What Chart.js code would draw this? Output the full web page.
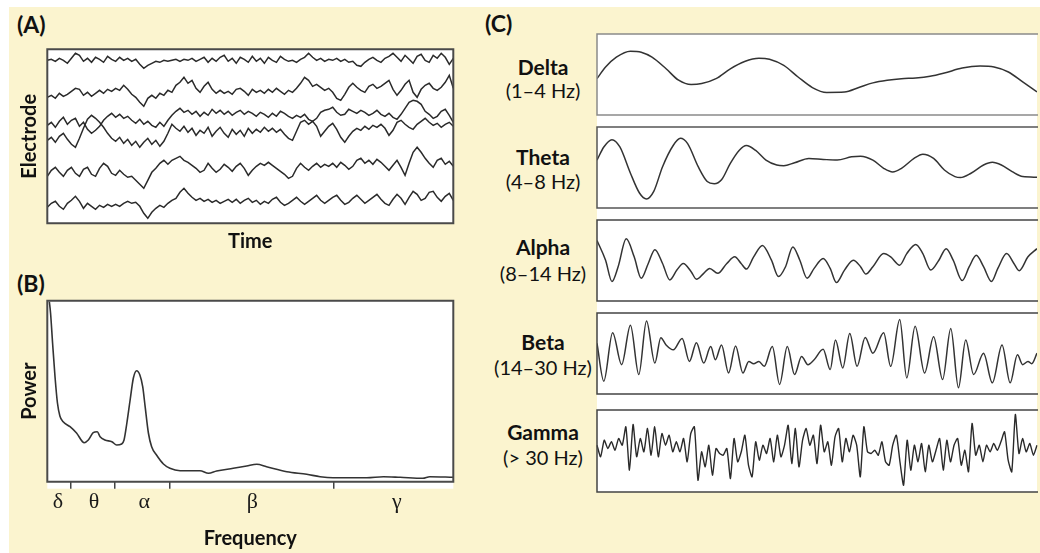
<!DOCTYPE html>
<html>
<head>
<meta charset="utf-8">
<script src="https://cdn.jsdelivr.net/npm/chart.js@4.4.1/dist/chart.umd.min.js"></script>
<style>
  html, body { margin: 0; padding: 0; background: #ffffff; }
  body { width: 1040px; height: 553px; position: relative; overflow: hidden; font-family: Lato, "Open Sans", sans-serif; }
  #sheet { position: absolute; left: 9px; top: 7px; width: 1031px; height: 546px; background: #fbf4cf; }
  #cpanel { position: absolute; left: 597px; top: 34px; width: 440px; height: 458px; background: #ffffff; }
  canvas { position: absolute; }
  .tag { position: absolute; font-weight: 700; font-size: 23px; line-height: 23px; color: #111; }
  .band { position: absolute; left: 543px; transform: translate(-50%, -50%); white-space: nowrap; color: #111; line-height: 1; }
  .band.name { font-weight: 700; font-size: 21px; }
  .band.range { font-size: 20px; }
</style>
</head>
<body>
<div id="sheet"></div>
<div id="cpanel"></div>

<div class="tag" style="left:17px; top:13px">(A)</div>
<div class="tag" style="left:17px; top:272px">(B)</div>
<div class="tag" style="left:485px; top:12px">(C)</div>

<canvas id="eeg" width="450" height="215" style="left:10px; top:40px"></canvas>
<canvas id="spectrum" width="450" height="258" style="left:10px; top:295px"></canvas>

<canvas id="wave0" width="442" height="83" style="left:596px; top:33px"></canvas>
<canvas id="wave1" width="442" height="83" style="left:596px; top:126px"></canvas>
<canvas id="wave2" width="442" height="83" style="left:596px; top:219px"></canvas>
<canvas id="wave3" width="442" height="83" style="left:596px; top:312px"></canvas>
<canvas id="wave4" width="442" height="84" style="left:596px; top:409px"></canvas>

<div id="bandLabels"></div>

<script>
// ---------- (A) multichannel EEG, deviations from each channel's baseline ----------
const eegTrace1 = [0,1,-1,2,0,-3,2,7,5,-1, 2,-2,3,1,-2,4,1,-1,3,0, 2,-1,1,-4,-8,-5,-3,-1,-2,0,
  -1,0,1,-1,1,0,2,-1,1,3, -2,2,-1,3,5,-1,2,-3,3,1, -2,4,-1,2,-3,3,0,-2,4,1, -1,0,-2,1,3,7,3,0,2,-1,
  1,0,2,-1,1,-2,-1,-5,-6,-2, 1,3,0,-2,2,4,7,3,-1,5, 1,-3,4,6,0,-2,5,2,7,3, -4,2];
const eegTrace2 = [-5,-3,-6,-1,-4,-2,1,4,3,-3, 0,-4,-1,2,-1,3,1,4,2,7, 3,-2,-5,-10,-14,-6,-3,-6,-1,-3,
  2,0,7,10,15,9,12,4,0,6, 10,3,-1,2,-1,1,-2,3,4,1, -3,3,0,2,-1,3,0,4,1,-2, 2,0,4,9,15,12,6,8,5,2,
  4,0,-6,-8,-2,5,9,5,2,0, 6,8,4,6,9,12,3,-3,2,8, 12,0,-5,3,7,9,4,2,5,10, 17,4];
const eegTrace3 = [-8,-5,-10,-4,0,-7,-3,-1,-9,-5, -12,-16,-13,-9,-3,1,4,0,3,-1, 1,-3,-6,-2,-7,-4,-8,-10,-5,-9,
  -3,2,6,9,5,7,3,6,1,5, 2,8,4,7,3,6,2,5,7,3, 6,4,1,5,3,0,4,1,6,4, 1,-1,2,0,3,-2,-4,-1,5,7,
  8,10,5,2,3,8,6,4,7,5, 2,4,7,3,1,4,0,-2,3,9, 15,17,16,13,6,3,-1,1,6,8, 2,-5];
const eegTrace4 = [-10,-7,-12,-6,-3,-9,-14,-17,-8,2, 11,15,12,8,3,-3,-8,-11,-7,-13, -9,-15,-11,-17,-12,-8,-14,-10,-16,-11,
  -3,6,2,-1,4,-2,2,-5,0,-3, 3,-6,-1,3,-3,-7,1,-4,0,-6, 2,-3,1,-2,3,-1,2,-2,1,-4, -8,-10,-1,8,10,6,9,4,-6,-1,
  4,7,1,-7,-12,-6,-1,2,0,4, 1,5,3,6,2,-5,0,8,10,6, 3,1,6,9,12,8,5,7,3,6, 8,4];
const eegTrace5 = [-8,-2,1,-4,-8,-2,1,-5,-8,-1, 1,-6,-8,0,5,2,-5,-7,-2,-6, -9,-8,-12,-16,-20,-12,-4,0,5,8,
  4,8,10,12,8,6,3,0,-4,-2, 5,0,-4,-1,4,1,-3,2,5,0, -7,-2,2,5,3,6,3,0,-3,-6, -10,-8,0,5,1,-2,2,5,1,4,
  2,5,1,6,3,-1,2,8,10,5, 8,4,9,6,2,-2,3,8,1,-7, 5,16,21,16,10,5,1,8,10,4, 7,2];
const eegTrace6 = [-5,-1,1,-4,-7,-1,2,6,1,-6, -1,-4,-7,-3,-5,-2,-4,-2,-4,-1, 1,-1,0,-4,-11,-16,-10,-6,-3,-5,
  -1,2,4,10,14,9,5,2,4,1, 3,0,2,-1,1,3,0,3,-1,2, 4,0,2,-2,1,-1,3,5,0,-3, -1,2,5,1,-2,1,4,7,2,-1,
  2,5,7,2,-2,0,4,7,3,-1, 2,5,8,3,-1,-3,3,8,4,-2, 5,11,8,2,4,10,11,5,1,6, 9,2];
const channelBaseline = [163, 131, 106, 93, 55, 21];

// ---------- (B) power spectrum ----------
const specFreq  = [0.5,0.8,1.3,1.9,2.5,3.1,3.9,5.6,7.2,9.1, 10.1,11.3,12.3,13,14.2,15.9,17.1,18.3,18.9,19.6,
  20.4,21.2,22,22.8,23.5,24.1,24.9,25.7,26.9,28.6, 30.2,32.7,37.6,39.7,41.7,45.8,49.1,51.6,54,59,
  63.9,67.2,70.4,78.7,82.8,86.9,92.5,94.2,100];
const specPower = [180,168.7,138.7,105,78.7,65.7,60,55,48.7,39, 41.7,49,50,45,41.7,40,36.7,37.7,41.7,58.7,
  81.7,103.7,111,106.7,95,75,48.7,35,26.7,17.7, 13.4,11,11,8.4,10.7,13.4,15.7,17.4,15,10,
  7.4,5,4,4,5,4.4,3.4,5,4.4];
const bandEdges = [5.7, 16.5, 30.2, 70.6];
const greekLetters = ['δ', 'θ', 'α', 'β', 'γ'];
const greekAt = [2.6, 11.5, 23.9, 50.5, 86.1];

// ---------- (C) band-limited rhythms (time in s, amplitude in µV) ----------
const bandNames  = ['Delta', 'Theta', 'Alpha', 'Beta', 'Gamma'];
const bandRanges = ['(1–4 Hz)', '(4–8 Hz)', '(8–14 Hz)', '(14–30 Hz)', '(> 30 Hz)'];

const deltaT = [0,0.039,0.088,0.152,0.201,0.250,0.314,0.371,0.428,0.476, 0.541,0.606,0.671,0.736,0.784,0.849,0.914,0.979,1.044,1.125,
  1.190,1.254,1.319,1.384,1.449,1.514,1.579,1.660,1.741,1.805, 1.870,1.935,2.0];
const deltaV = [-4.2,7.5,17.5,23.5,22.5,17.5,5.8,-5.8,-10.2,-9.2, -4.2,5.8,13.2,16.5,15.5,9.2,-2.5,-13.2,-18.2,-17.8,
  -13.2,-8.5,-5.8,-4.2,-3.5,-1.8,1.5,6.5,8.5,7.5, 2.5,-7.5,-17.5];

const thetaT = [0,0.031,0.068,0.104,0.152,0.193,0.225,0.258,0.298,0.347, 0.379,0.412,0.460,0.501,0.533,0.566,0.606,0.647,0.679,0.720,
  0.768,0.817,0.849,0.898,0.963,1.028,1.092,1.157,1.198,1.254, 1.303,1.344,1.384,1.441,1.481,1.530,1.579,1.627,1.652,1.700,
  1.757,1.797,1.838,1.887,1.935,2.0];
const thetaV = [7.5,20.8,28.2,20.8,-5.8,-25.8,-31.8,-24.2,0.8,22.5, 29.5,24.2,0.8,-14.2,-16.5,-12.5,4.2,17.5,22.2,17.5,
  7.5,2.5,1.8,4.8,9.2,8.2,7.5,10.8,11.5,7.5, -0.8,-4.5,-0.8,9.2,13.5,9.2,-2.5,-9.2,-10.2,-5.8,
  2.5,5.2,2.5,-4.2,-9.2,-9.8];

const alphaT = [0,0.039,0.068,0.096,0.133,0.169,0.201,0.233,0.263,0.298, 0.331,0.363,0.392,0.428,0.452,0.485,0.512,0.549,0.590,0.626,
  0.655,0.679,0.712,0.752,0.793,0.825,0.857,0.890,0.922,0.955, 0.987,1.028,1.060,1.088,1.125,1.165,1.198,1.222,1.254,1.303,
  1.335,1.376,1.408,1.449,1.481,1.517,1.554,1.587,1.619,1.660, 1.692,1.724,1.757,1.793,1.822,1.862,1.895,1.919,1.959,2.0];
const alphaV = [20.3,0.3,-21.3,-6.3,22,3.7,-18,-3,11,-3, -19.7,-9.7,-3,-11.3,-19,-13,-8,-13,-3,3.7,
  -3,-8.7,3.7,15.3,0.3,-16.3,-6.3,13.7,0.3,-18, -8,2,-8,-22.3,-9.7,0.3,-6.3,-13.7,-6.3,7,
  3.7,-4.7,7,16.3,7,-9.7,0.3,12,0.3,-20.3, -6.3,5.3,-6.3,-21.3,-8,7,-3,-10.3,3.7,12];

const betaT = [0,0.031,0.071,0.112,0.152,0.190,0.225,0.263,0.290,0.314, 0.347,0.387,0.420,0.452,0.485,0.517,0.538,0.566,0.598,0.630,
  0.663,0.690,0.712,0.736,0.760,0.797,0.830,0.865,0.898,0.930, 0.959,0.987,1.028,1.060,1.084,1.117,1.149,1.182,1.219,1.254,
  1.303,1.335,1.376,1.408,1.446,1.489,1.530,1.571,1.608,1.643, 1.676,1.712,1.757,1.797,1.841,1.878,1.911,1.935,1.959,1.976, 2.0];
const betaV = [10.3,-28,21,-11.3,28.7,-21.3,33,-9.7,16,8.7, 3.7,15.3,-8,11,-9.7,7,-6.3,8.7,-19.7,7.7,
  -19.7,-8,-10.3,-8,-13,7,-31.3,7,-21.3,-3, -11.3,-6.3,4.3,-16.3,13.7,-14.7,20.3,-13,16.3,0.3,
  21,-13,34.3,-24.7,27.7,-19.7,17,-26.3,25.3,-34.7, 13.7,-21.3,0.3,-29.7,8.7,-29.7,-1.3,-11.3,-8,-10.3, 0.3];

// gamma is kept as evenly spaced samples
const gammaSamples = [5.8,-5.8,10.8,2.5,9.2,0.8,12.5,5.8,24.2,-19.2, 26.5,-5.8,12.5,-0.8,22.5,-4.2,24.2,-5.8,17.5,5.8,
  15.8,-0.8,9.2,-0.8,12.5,-10.8,17.5,24.2,-29.2,-0.8, -15.8,5.8,-24.2,2.5,-2.5,-4.2,2.5,-27.5,12.5,-10.8,
  -0.8,15.8,-14.2,-25.8,9.2,-9.2,5.8,-2.5,12.5,-10.8, 15.8,-5.8,5.8,25.8,-12.5,22.5,-15.8,10.8,22.5,5.8,
  15.8,-12.5,25.8,-0.8,9.2,-14.2,14.2,22.5,-10.8,12.5, -0.8,15.8,5.8,-25.8,24.2,-0.8,-2.5,0.8,-4.2,9.2,
  -10.8,-14.2,5.8,15.8,-10.8,-34.2,10.8,-19.2,5.8,-10.8, 7.5,-20.8,5.8,-10.8,0.8,12.5,-19.2,10.8,-10.8,5.8,
  12.5,-14.2,0.8,-20.8,27.5,-4.2,5.8,-10.8,5.8,-0.8, 7.5,0.8,9.2,19.2,-9.2,-20.8,36.5,-2.5,12.5,-0.8,
  7.5,-4.2,5.8];

// ---------- shared drawing helpers ----------
const INK = '#2a2a2a';
const titleFont = { family: 'Lato', size: 20, weight: 'bold' };

// white plot field + frame around the chart area
const framePlugin = {
  id: 'frame',
  beforeDraw(chart, args, opts) {
    const { ctx, chartArea: a } = chart;
    ctx.save();
    ctx.fillStyle = '#ffffff';
    ctx.fillRect(a.left, a.top, a.right - a.left, a.bottom - a.top + (opts.extraBottom || 0));
    ctx.restore();
  },
  afterDatasetsDraw(chart, args, opts) {
    const { ctx, chartArea: a } = chart;
    ctx.save();
    ctx.strokeStyle = opts.color || '#444';
    ctx.lineWidth = opts.width || 2;
    ctx.beginPath();
    if (opts.open) {
      ctx.moveTo(a.right + 2, a.top); ctx.lineTo(a.left, a.top);
      ctx.lineTo(a.left, a.bottom); ctx.lineTo(a.right + 2, a.bottom);
    } else {
      ctx.rect(a.left, a.top, a.right - a.left, a.bottom - a.top);
    }
    ctx.stroke();
    ctx.restore();
  }
};
Chart.register(framePlugin);

const quiet = { legend: { display: false }, tooltip: { enabled: false } };

// ---------- (A) ----------
const eegTraces = [eegTrace1, eegTrace2, eegTrace3, eegTrace4, eegTrace5, eegTrace6];
new Chart(document.getElementById('eeg'), {
  type: 'line',
  data: {
    labels: eegTrace1.map((_, i) => i),
    datasets: eegTraces.map((tr, k) => ({
      data: tr.map(v => v + channelBaseline[k]),
      borderColor: INK, borderWidth: 1.5, pointRadius: 0, tension: 0
    }))
  },
  options: {
    responsive: false, animation: false, events: [],
    layout: { padding: { top: 9.3, right: 6.7, left: 0, bottom: 0 } },
    plugins: { ...quiet, frame: { color: '#4a4a4a', width: 2 } },
    scales: {
      x: {
        grid: { display: false }, border: { display: false }, ticks: { display: false },
        title: { display: true, text: 'Time', font: titleFont, color: '#111', padding: { top: 0, bottom: 1 } },
        afterFit: s => { s.height = 31.7; }
      },
      y: {
        min: 0, max: 174,
        grid: { display: false }, border: { display: false }, ticks: { display: false },
        title: { display: true, text: 'Electrode', font: titleFont, color: '#111', padding: { top: 8, bottom: 0 } },
        afterFit: s => { s.width = 37.3; }
      }
    }
  }
});

// ---------- (B) ----------
new Chart(document.getElementById('spectrum'), {
  type: 'line',
  data: {
    datasets: [{
      data: specFreq.map((f, i) => ({ x: f, y: specPower[i] })),
      borderColor: '#333333', borderWidth: 1.6, pointRadius: 0,
      cubicInterpolationMode: 'monotone', xAxisID: 'x', yAxisID: 'y'
    }]
  },
  options: {
    responsive: false, animation: false, events: [],
    layout: { padding: { top: 5.7, right: 6.7, left: 0, bottom: 0 } },
    plugins: { ...quiet, frame: { color: '#4a4a4a', width: 2, extraBottom: 7 } },
    scales: {
      x: {
        type: 'linear', min: 0, max: 100, position: 'bottom', weight: 0,
        grid: { drawOnChartArea: false, tickLength: 7, color: '#444', lineWidth: 1.5 },
        border: { display: false }, ticks: { display: false },
        afterBuildTicks: s => { s.ticks = bandEdges.map(v => ({ value: v })); },
        afterFit: s => { s.height = 7; }
      },
      xg: {
        type: 'linear', min: 0, max: 100, position: 'bottom', weight: 1,
        grid: { display: false, drawTicks: false }, border: { display: false },
        ticks: {
          autoSkip: false, maxRotation: 0, padding: 0, color: '#1a1a1a',
          font: { family: 'Liberation Serif', size: 22 },
          callback: (v, i) => greekLetters[i]
        },
        afterBuildTicks: s => { s.ticks = greekAt.map(v => ({ value: v })); },
        title: { display: true, text: 'Frequency', font: titleFont, color: '#111', padding: { top: 0, bottom: 2 } },
        afterFit: s => { s.height = 64.3; }
      },
      y: {
        min: 0, max: 181,
        grid: { display: false }, border: { display: false }, ticks: { display: false },
        title: { display: true, text: 'Power', font: titleFont, color: '#111', padding: { top: 8, bottom: 0 } },
        afterFit: s => { s.width = 37.3; }
      }
    }
  }
});

// ---------- (C) ----------
const rhythms = [
  deltaT.map((t, i) => ({ x: t, y: deltaV[i] })),
  thetaT.map((t, i) => ({ x: t, y: thetaV[i] })),
  alphaT.map((t, i) => ({ x: t, y: alphaV[i] })),
  betaT.map((t, i) => ({ x: t, y: betaV[i] }))
];
const frameColors = ['#8a8a8a', '#555555', '#444444', '#444444', '#444444'];

rhythms.forEach((pts, k) => {
  new Chart(document.getElementById('wave' + k), {
    type: 'line',
    data: { datasets: [{ data: pts, borderColor: '#333333', borderWidth: 1.5, pointRadius: 0, cubicInterpolationMode: 'monotone' }] },
    options: {
      responsive: false, animation: false, events: [],
      layout: { padding: { top: 1, right: 1, bottom: 1, left: 1 } },
      plugins: { ...quiet, frame: { color: frameColors[k], width: 1.5, open: true } },
      scales: {
        x: { type: 'linear', min: 0, max: 2, display: false },
        y: { min: -41, max: 41, display: false }
      }
    }
  });
});

new Chart(document.getElementById('wave4'), {
  type: 'line',
  data: {
    labels: gammaSamples.map((_, i) => i),
    datasets: [{ data: gammaSamples, borderColor: '#2a2a2a', borderWidth: 1.4, pointRadius: 0, tension: 0.2 }]
  },
  options: {
    responsive: false, animation: false, events: [],
    layout: { padding: { top: 1, right: 1, bottom: 1, left: 1 } },
    plugins: { ...quiet, frame: { color: frameColors[4], width: 1.5, open: true } },
    scales: { x: { display: false }, y: { min: -41, max: 41, display: false } }
  }
});

// band names beside the rhythm plots
const nameY  = [65.5, 155.5, 246, 341, 430.5];
const rangeY = [89.5, 180.5, 273, 366.5, 456.5];
const holder = document.getElementById('bandLabels');
bandNames.forEach((n, k) => {
  const a = document.createElement('div');
  a.className = 'band name'; a.style.top = nameY[k] + 'px'; a.textContent = n;
  const b = document.createElement('div');
  b.className = 'band range'; b.style.top = rangeY[k] + 'px'; b.textContent = bandRanges[k];
  holder.appendChild(a); holder.appendChild(b);
});
</script>
</body>
</html>
